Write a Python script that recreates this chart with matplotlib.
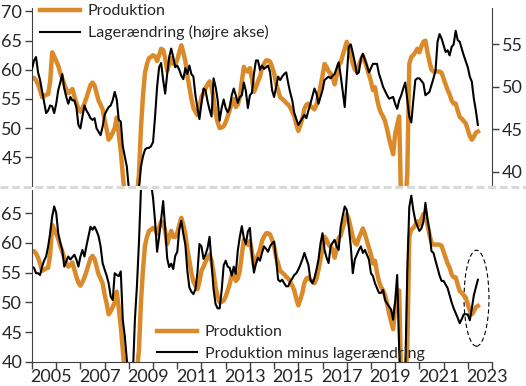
import matplotlib
matplotlib.use("Agg")
import matplotlib.pyplot as plt
from matplotlib.lines import Line2D
from matplotlib.patches import Ellipse
import numpy as np

plt.rcParams["font.family"] = ["Lato", "DejaVu Sans"]

# monthly data, Jan 2005 - Jun 2023
start_year = 2005
produktion = [
    58.6, 58.6, 58.2, 57.5, 56.5, 55.3, 55.5, 55.7, 55.8, 58.0, 63.0, 62.3,
    61.5, 60.7, 59.5, 58.5, 57.5, 56.6, 56.0, 56.3, 56.7, 55.5, 54.3, 53.3,
    52.8, 53.4, 54.2, 55.2, 56.3, 57.4, 57.8, 57.3, 56.0, 54.7, 54.0, 53.2,
    51.3, 49.8, 48.0, 48.5, 49.2, 50.0, 51.8, 49.0, 46.0, 42.0, 38.0, 36.0,
    35.0, 34.5, 35.0, 36.5, 38.5, 42.0, 50.0, 55.5, 59.5, 61.0, 62.0, 62.2,
    62.5, 62.3, 61.5, 62.5, 63.6, 63.4, 62.0, 59.8, 61.0, 62.0, 61.0, 61.0,
    61.7, 63.0, 64.2, 63.0, 61.5, 59.0, 57.0, 55.0, 53.5, 52.8, 52.2, 53.5,
    55.3, 56.0, 56.8, 57.5, 58.0, 57.0, 55.0, 52.5, 51.0, 50.0, 50.1, 50.3,
    51.0, 52.0, 53.1, 54.5, 55.0, 53.6, 54.0, 55.3, 58.0, 60.5, 59.8, 59.7,
    60.3, 58.5, 56.2, 57.0, 58.0, 58.8, 60.3, 61.0, 61.6, 61.6, 61.4, 60.5,
    59.4, 57.6, 56.5, 55.3, 55.0, 54.7, 54.3, 54.0, 53.5, 52.8, 52.0, 50.6,
    49.5, 50.5, 51.6, 53.3, 54.0, 54.2, 53.8, 53.5, 53.2, 54.0, 55.5, 57.2,
    59.0, 61.0, 60.5, 59.7, 59.4, 58.8, 57.5, 59.0, 60.8, 61.2, 62.5, 63.6,
    64.8, 64.0, 62.5, 61.0, 60.0, 59.7, 60.8, 61.6, 62.4, 61.5, 60.3, 59.2,
    58.0, 56.5, 57.0, 55.0, 53.5, 52.6, 52.0, 51.2, 49.8, 48.2, 46.8, 45.5,
    49.0, 50.5, 52.0, 36.0, 34.0, 37.0, 42.0, 61.0, 62.2, 62.5, 63.0, 63.6,
    63.0, 64.0, 64.8, 65.0, 63.0, 61.4, 60.0, 59.7, 59.7, 59.7, 59.7, 59.5,
    58.5, 57.5, 56.5, 55.8, 54.7, 54.2, 54.2, 53.0, 51.9, 51.6, 51.2, 50.8,
    49.7, 48.6, 48.0, 48.5, 49.2, 49.4,
]
lagerændring = [
    52.1, 53.1, 53.5, 51.7, 50.8, 49.5, 48.2, 46.9, 47.2, 47.8, 47.7, 46.9,
    48.0, 49.6, 50.5, 51.5, 49.8, 48.8, 48.0, 48.8, 48.4, 48.4, 47.6, 45.5,
    45.1, 46.5, 47.8, 47.2, 46.8, 46.3, 46.1, 46.3, 45.1, 44.7, 44.3, 45.3,
    46.7, 47.2, 47.6, 47.8, 48.4, 49.4, 48.5, 46.1, 45.9, 43.0, 41.8, 40.6,
    38.0, 36.5, 35.5, 35.5, 36.5, 38.0, 40.6, 41.8, 42.6, 42.8, 42.8, 43.0,
    43.5, 46.5, 50.0, 52.3, 52.8, 50.8, 49.2, 51.5, 53.5, 54.5, 53.5, 52.3,
    52.5, 52.0, 51.3, 50.9, 52.2, 51.5, 52.5, 51.5, 51.2, 49.0, 47.5, 46.2,
    48.1, 49.8, 49.6, 48.3, 47.3, 46.5, 51.0, 50.0, 48.5, 46.0, 47.5, 48.5,
    47.5, 47.0, 47.5, 49.0, 49.8, 49.0, 48.1, 48.8, 49.0, 50.5, 49.5, 47.5,
    49.0, 49.3, 51.5, 53.1, 53.1, 52.0, 52.5, 52.1, 52.3, 52.5, 51.7, 49.6,
    48.8, 50.0, 51.2, 50.8, 51.2, 51.5, 51.7, 50.4, 49.3, 48.4, 46.9, 46.2,
    45.5, 45.9, 46.3, 46.7, 46.3, 47.2, 48.0, 48.9, 49.8, 49.2, 48.0, 48.8,
    49.6, 50.8, 51.0, 51.2, 51.0, 51.3, 51.5, 52.2, 52.9, 51.3, 49.5, 47.6,
    51.2, 54.7, 55.0, 54.0, 52.9, 51.5, 51.7, 53.3, 53.9, 53.2, 52.5, 51.7,
    52.2, 52.7, 52.7, 52.7, 51.5, 50.8, 50.0, 49.5, 49.0, 48.6, 48.7, 48.8,
    48.0, 47.4, 48.4, 49.0, 49.8, 50.5, 48.5, 46.5, 45.8, 48.4, 50.8, 51.0,
    51.0, 50.7, 50.4, 49.0, 49.2, 49.4, 50.2, 51.0, 51.9, 55.3, 56.2, 55.7,
    54.9, 54.1, 54.3, 53.7, 54.7, 55.0, 56.6, 55.5, 55.3, 54.5, 53.7, 53.0,
    52.3, 51.2, 50.6, 48.6, 47.2, 45.5,
]
prod_minus_lager = [
    56.0, 55.8, 54.9, 54.9, 54.6, 56.0, 57.0, 57.7, 59.4, 61.6, 64.4, 66.1,
    65.0, 61.6, 60.0, 58.8, 56.0, 56.9, 57.7, 57.2, 57.6, 58.0, 57.2, 56.0,
    57.7, 58.8, 57.7, 59.5, 61.1, 62.7, 62.2, 62.7, 62.0, 61.1, 59.4, 56.6,
    55.5, 54.5, 53.2, 51.0, 50.4, 54.9, 54.6, 54.4, 55.2, 47.1, 44.3, 40.4,
    37.5, 36.5, 38.0, 47.1, 52.7, 60.0, 69.0, 72.0, 74.0, 74.0, 72.0, 70.0,
    67.5, 63.6, 58.5, 61.0, 63.9, 67.0, 62.5, 57.4, 55.9, 56.5, 55.6, 57.8,
    58.5, 62.3, 63.7, 61.5, 59.7, 55.3, 52.5, 51.8, 51.4, 52.2, 55.0, 59.8,
    59.4, 57.3, 58.0, 59.1, 61.0, 56.5, 52.2, 49.7, 49.0, 49.0, 52.0, 56.2,
    57.0, 56.0, 55.8, 54.5, 56.0, 54.8, 58.7, 61.0, 62.8, 60.8, 59.8, 61.9,
    62.5, 58.0, 55.0, 56.5, 57.5, 57.0, 58.3, 59.4, 59.0, 58.5, 59.4, 59.9,
    60.2, 57.2, 53.8, 53.5, 53.8, 53.2, 52.7, 52.7, 53.5, 54.0, 54.6, 54.9,
    55.5, 56.3, 57.2, 58.3, 57.3, 56.3, 53.8, 53.2, 54.1, 55.5, 57.2, 59.9,
    61.6, 58.8, 57.5, 56.6, 59.4, 60.0, 60.5, 59.4, 58.8, 62.7, 64.5, 66.1,
    65.5, 62.7, 59.4, 54.9, 57.2, 58.0, 58.8, 59.4, 58.3, 58.8, 58.0, 57.2,
    54.9, 54.4, 53.2, 52.4, 51.6, 51.6, 52.1, 50.4, 49.8, 49.3, 48.8, 47.1,
    50.2, 54.6, 42.0, 35.0, 35.0, 38.0, 55.0, 66.0, 67.9, 65.5, 63.7, 62.8,
    62.0, 62.4, 63.5, 66.7, 64.0, 62.0, 58.6, 58.3, 57.0, 55.8, 54.5, 53.6,
    53.6, 53.0, 52.4, 51.2, 50.0, 49.0, 48.2, 47.4, 46.5, 47.2, 48.0, 48.0,
    48.0, 47.0, 49.0, 51.2, 52.5, 53.8,
]
year_labels = [str(y) for y in range(2005, 2024, 2)]

t = start_year + np.arange(len(produktion)) / 12

ORANGE = "#DB8A2A"
AXC = "#404040"
TXT = "#262626"

W, H = 526, 386
fig = plt.figure(figsize=(W / 100, H / 100), dpi=100)


def box(x0, y0, x1, y1):
    return [x0 / W, 1 - y1 / H, (x1 - x0) / W, (y1 - y0) / H]


# top panel
ax1 = fig.add_axes(box(32, 8, 492, 186.3))
ax1r = ax1.twinx()
l1, = ax1.plot(t, produktion, color=ORANGE, lw=3.2, label="Produktion")
l2, = ax1r.plot(t, lagerændring, color="black", lw=1.5,
                label="Lagerændring (højre akse)")
ax1.set_xlim(2005, 2024)
ax1.set_ylim(40, 70.6)
ax1r.set_ylim(38.28, 59.28)
ax1.set_yticks([45, 50, 55, 60, 65, 70])
ax1r.set_yticks([40, 45, 50, 55])
ax1.set_xticks([])
for s in ["top", "right", "bottom"]:
    ax1.spines[s].set_visible(False)
for s in ["top", "left", "bottom"]:
    ax1r.spines[s].set_visible(False)
ax1.spines["left"].set_color(AXC)
ax1r.spines["right"].set_color(AXC)
for a in (ax1, ax1r):
    a.tick_params(axis="y", direction="out", length=5, width=1, color=AXC,
                  labelsize=13, labelcolor=TXT, pad=2)

leg1 = ax1r.legend([l1, l2], [l1.get_label(), l2.get_label()],
                   loc="upper left", bbox_to_anchor=(40 / W, 1 - 4 / H),
                   bbox_transform=fig.transFigure, frameon=False,
                   fontsize=11.5, borderpad=0, borderaxespad=0,
                   handlelength=2.5, handletextpad=0.5, labelspacing=0.45)
for txt in leg1.get_texts():
    txt.set_color(TXT)

# bottom panel
ax2 = fig.add_axes(box(32, 190, 492, 362))
b1, = ax2.plot(t, produktion, color=ORANGE, lw=3.2, label="Produktion")
b2, = ax2.plot(t, prod_minus_lager, color="black", lw=1.5,
               label="Produktion minus lagerændring")
ax2.set_xlim(2005, 2024)
ax2.set_ylim(40, 68.86)
ax2.set_yticks([40, 45, 50, 55, 60, 65])
ax2.set_xticks(range(2005, 2025))
ax2.set_xticklabels([])
ax2.set_xticks([int(y) + 0.8 for y in year_labels], year_labels, minor=True)
ax2.tick_params(axis="x", which="major", direction="out", length=5, width=1,
                color=AXC)
ax2.tick_params(axis="x", which="minor", length=0, labelsize=13,
                labelcolor=TXT, pad=5)
ax2.tick_params(axis="y", direction="out", length=5, width=1, color=AXC,
                labelsize=13, labelcolor=TXT, pad=2)
for s in ["top", "right"]:
    ax2.spines[s].set_visible(False)
for s in ["left", "bottom"]:
    ax2.spines[s].set_color(AXC)

ax2.add_patch(Ellipse((2023.36, 50.7), width=1.03, height=16.1, fill=False,
                      ls=(0, (4, 2.5)), lw=0.8, ec="black", clip_on=False))

leg2 = ax2.legend(loc="upper left", bbox_to_anchor=(157 / W, 1 - 325 / H),
                  bbox_transform=fig.transFigure, frameon=False,
                  fontsize=11.5, borderpad=0, borderaxespad=0,
                  handlelength=2.5, handletextpad=0.5, labelspacing=0.45)
for txt in leg2.get_texts():
    txt.set_color(TXT)

# separator
fig.add_artist(Line2D([0, 1], [1 - 187.5 / H] * 2, transform=fig.transFigure,
                      color="#d9d9d9", lw=2.2, ls=(0, (2.6, 1.2))))

fig.savefig("out.png", dpi=100)
